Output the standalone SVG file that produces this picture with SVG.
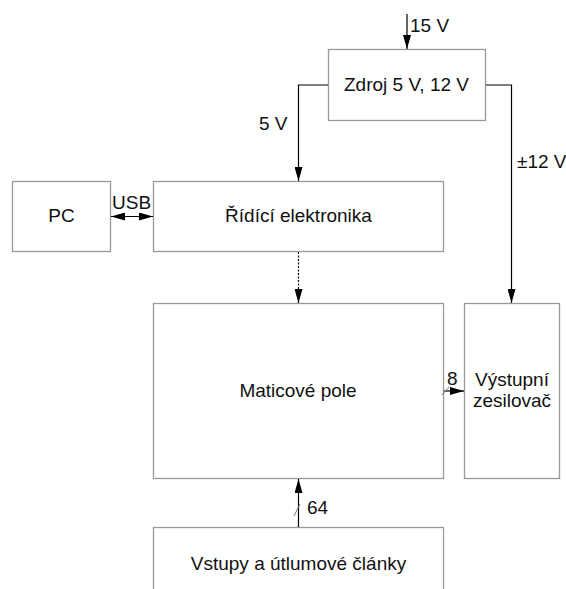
<svg xmlns="http://www.w3.org/2000/svg" width="566" height="589" viewBox="0 0 566 589">
<style>
.box{fill:#fff;stroke:#999;stroke-width:1.3}
.t{font-family:"Liberation Sans",Arial,sans-serif;font-size:19px;fill:#111}
.c{text-anchor:middle}
.ln{fill:none;stroke:#000;stroke-width:1.2}
.sl{fill:none;stroke:#777;stroke-width:1}
</style>
<defs>
<marker id="ah" viewBox="0 0 14 8" refX="14" refY="4" markerWidth="14" markerHeight="8" markerUnits="userSpaceOnUse" orient="auto-start-reverse">
<path d="M0,0 L14,4 L0,8 Z" fill="#000"/>
</marker>
</defs>
<rect width="566" height="589" fill="#fff"/>
<g id="zdroj"><rect class="box" x="328.5" y="49.5" width="157" height="71"/><text class="t c" x="406.5" y="91">Zdroj 5 V, 12 V</text></g>
<g id="pc"><rect class="box" x="12.5" y="181.5" width="98" height="70"/><text class="t c" x="61.5" y="222">PC</text></g>
<g id="ridici"><rect class="box" x="153.5" y="181.5" width="290" height="70"/><text class="t c" x="298.5" y="222">Řídící elektronika</text></g>
<g id="matice"><rect class="box" x="153.5" y="303.5" width="290" height="175"/><text class="t c" x="298" y="397">Maticové pole</text></g>
<g id="vystupni"><rect class="box" x="464.5" y="303.5" width="95" height="175"/><text class="t c" x="512" y="386">Výstupní</text><text class="t c" x="512" y="407">zesilovač</text></g>
<g id="vstupy"><rect class="box" x="153.5" y="527.5" width="290" height="80"/><text class="t c" x="298.5" y="570">Vstupy a útlumové články</text></g>
<g id="connectors">
<line class="ln" x1="407" y1="14" x2="407" y2="49" marker-end="url(#ah)"/>
<text class="t" x="410" y="32">15 V</text>
<polyline class="ln" points="328,85 298.5,85 298.5,181" marker-end="url(#ah)"/>
<text class="t" x="259" y="130">5 V</text>
<polyline class="ln" points="486,85 511.5,85 511.5,303" marker-end="url(#ah)"/>
<text class="t" x="517" y="168">±12 V</text>
<line class="ln" x1="111" y1="216.5" x2="153" y2="216.5" marker-start="url(#ah)" marker-end="url(#ah)"/>
<text class="t" x="112" y="209">USB</text>
<line class="ln" x1="298.5" y1="252" x2="298.5" y2="303" stroke-dasharray="2,1.5" marker-end="url(#ah)"/>
<line class="ln" x1="444" y1="391" x2="464" y2="391" marker-end="url(#ah)"/>
<line class="sl" x1="442" y1="395" x2="449" y2="387"/>
<text class="t" x="447" y="385">8</text>
<line class="ln" x1="298.5" y1="527" x2="298.5" y2="479" marker-end="url(#ah)"/>
<line class="sl" x1="294" y1="516" x2="300" y2="504"/>
<text class="t" x="307" y="514">64</text>
</g>
</svg>
